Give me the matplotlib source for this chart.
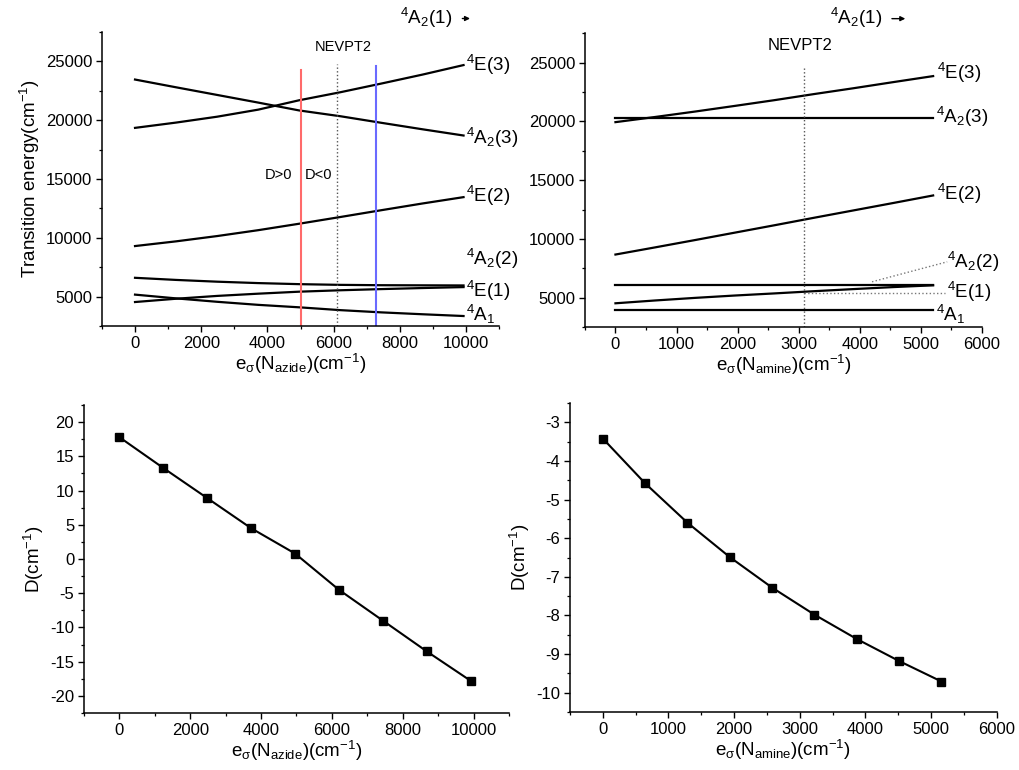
import matplotlib
matplotlib.use("Agg")
import matplotlib.pyplot as plt
from matplotlib.ticker import MultipleLocator

plt.rcParams['font.family'] = ['Liberation Sans', 'DejaVu Sans']
plt.rcParams['mathtext.fontset'] = 'custom'
plt.rcParams['mathtext.rm'] = 'Liberation Sans'
plt.rcParams['mathtext.it'] = 'Liberation Sans:italic'
plt.rcParams['mathtext.sf'] = 'Liberation Sans'
plt.rcParams['axes.unicode_minus'] = False

# ---- data: azide (top-left) ----
x_azide = [0, 1240, 2480, 3720, 4960, 6200, 7440, 8680, 9920]
azide_E3 = [19350, 19800, 20300, 20900, 21700, 22380, 23120, 23880, 24690]
azide_A2_3 = [23460, 22800, 22150, 21500, 20830, 20340, 19780, 19230, 18700]
azide_E2 = [9300, 9700, 10150, 10650, 11200, 11770, 12350, 12920, 13460]
azide_A2_2 = [6600, 6420, 6270, 6150, 6060, 6000, 5970, 5960, 5950]
azide_E1 = [4540, 4820, 5060, 5250, 5420, 5540, 5640, 5730, 5810]
azide_A1 = [5170, 4850, 4560, 4300, 4090, 3850, 3660, 3500, 3350]

# ---- data: amine (top-right) ----
x_amine = [0, 650, 1300, 1950, 2600, 3250, 3900, 4550, 5200]
amine_E3 = [19940, 20380, 20840, 21320, 21810, 22330, 22830, 23350, 23860]
amine_A2_3 = [20300] * 9
amine_E2 = [8670, 9280, 9900, 10530, 11160, 11800, 12430, 13060, 13700]
amine_A2_2 = [6050] * 9
amine_E1 = [4520, 4760, 4980, 5180, 5360, 5550, 5730, 5900, 6050]
amine_A1 = [3950] * 9

# ---- D values ----
D_x_azide = [0, 1240, 2480, 3720, 4960, 6200, 7440, 8680, 9920]
D_azide = [17.8, 13.3, 8.9, 4.5, 0.8, -4.5, -9.0, -13.5, -17.8]
D_x_amine = [0, 645, 1290, 1935, 2580, 3225, 3870, 4515, 5160]
D_amine = [-3.42, -4.58, -5.60, -6.49, -7.28, -7.98, -8.61, -9.18, -9.71]

nevpt2_azide = 6110
nevpt2_amine = 3080
red_x = 5015
blue_x = 7280

lab_E3 = r'$^{4}$E(3)'
lab_A23 = r'$^{4}$A$_{2}$(3)'
lab_E2 = r'$^{4}$E(2)'
lab_A22 = r'$^{4}$A$_{2}$(2)'
lab_E1 = r'$^{4}$E(1)'
lab_A1 = r'$^{4}$A$_{1}$'
lab_A21 = r'$^{4}$A$_{2}$(1)'

xlab_azide = r'e$_{\mathrm{σ}}$(N$_{\mathrm{azide}}$)(cm$^{-1}$)'
xlab_amine = r'e$_{\mathrm{σ}}$(N$_{\mathrm{amine}}$)(cm$^{-1}$)'

fig = plt.figure(figsize=(10.19, 7.70), dpi=100)
ax1 = fig.add_axes([0.100, 0.5766, 0.390, 0.3818])
ax2 = fig.add_axes([0.574, 0.5753, 0.3897, 0.3814])
ax3 = fig.add_axes([0.0824, 0.074, 0.4171, 0.400])
ax4 = fig.add_axes([0.5594, 0.0753, 0.4186, 0.4013])


def style(ax):
    for s in ['top', 'right']:
        ax.spines[s].set_visible(False)
    for s in ['left', 'bottom']:
        ax.spines[s].set_linewidth(1.1)
    ax.tick_params(which='major', direction='out', length=4, width=1.0, labelsize=12, pad=3)
    ax.tick_params(which='minor', direction='out', length=2.5, width=0.9)


lw = 1.6
fs_ax = 13.5
fs_lab = 13.5
arrow = dict(arrowstyle='-|>', color='black', lw=1.0, mutation_scale=7)

# top-left
for y in [azide_E3, azide_A2_3, azide_E2, azide_A2_2, azide_E1, azide_A1]:
    ax1.plot(x_azide, y, color='black', lw=lw)
ax1.plot([red_x, red_x], [2500, 24260], color='#ff6a6a', lw=1.5)
ax1.plot([blue_x, blue_x], [2500, 24600], color='#6a6aff', lw=1.5)
ax1.plot([nevpt2_azide, nevpt2_azide], [2500, 24740], color='#555555', lw=1.0, ls=':')
ax1.text(6280, 26200, 'NEVPT2', ha='center', va='center', fontsize=10.5)
ax1.text(4320, 15350, 'D>0', ha='center', va='center', fontsize=10.5)
ax1.text(5530, 15350, 'D<0', ha='center', va='center', fontsize=10.5)
ax1.set_xlim(-1000, 11000)
ax1.set_ylim(2500, 27500)
ax1.xaxis.set_major_locator(MultipleLocator(2000))
ax1.xaxis.set_minor_locator(MultipleLocator(1000))
ax1.yaxis.set_major_locator(MultipleLocator(5000))
ax1.yaxis.set_minor_locator(MultipleLocator(2500))
ax1.set_xlabel(xlab_azide, fontsize=fs_ax, labelpad=1)
ax1.set_ylabel(r'Transition energy(cm$^{-1}$)', fontsize=fs_ax, labelpad=3)
for txt, yy in [(lab_E3, 24700), (lab_A23, 18500), (lab_E2, 13600), (lab_A22, 8200),
                (lab_E1, 5450), (lab_A1, 3500)]:
    ax1.text(10000, yy, txt, ha='left', va='center', fontsize=fs_lab, clip_on=False)
ax1.text(8000, 28700, lab_A21, ha='left', va='center', fontsize=fs_lab, clip_on=False)
ax1.annotate('', xy=(10200, 28650), xytext=(9800, 28650), arrowprops=arrow,
             annotation_clip=False)
style(ax1)

# top-right
for y in [amine_E3, amine_A2_3, amine_E2, amine_A2_2, amine_E1, amine_A1]:
    ax2.plot(x_amine, y, color='black', lw=lw)
ax2.plot([nevpt2_amine, nevpt2_amine], [2500, 24570], color='#555555', lw=1.0, ls=':')
ax2.plot([4200, 5430], [6350, 8050], color='#777777', lw=1.0, ls=':')
ax2.plot([3080, 5400], [5380, 5380], color='#777777', lw=1.0, ls=':')
ax2.text(3020, 26500, 'NEVPT2', ha='center', va='center', fontsize=12)
ax2.set_xlim(-500, 6000)
ax2.set_ylim(2500, 27500)
ax2.xaxis.set_major_locator(MultipleLocator(1000))
ax2.xaxis.set_minor_locator(MultipleLocator(500))
ax2.yaxis.set_major_locator(MultipleLocator(5000))
ax2.yaxis.set_minor_locator(MultipleLocator(2500))
ax2.set_xlabel(xlab_amine, fontsize=fs_ax, labelpad=1)
for txt, xx, yy in [(lab_E3, 5270, 24100), (lab_A23, 5250, 20400), (lab_E2, 5270, 13800),
                    (lab_A22, 5420, 8050), (lab_E1, 5420, 5450), (lab_A1, 5250, 3550)]:
    ax2.text(xx, yy, txt, ha='left', va='center', fontsize=fs_lab, clip_on=False)
ax2.text(3520, 28800, lab_A21, ha='left', va='center', fontsize=fs_lab, clip_on=False)
ax2.annotate('', xy=(4790, 28750), xytext=(4480, 28750), arrowprops=arrow,
             annotation_clip=False)
style(ax2)

# bottom-left
ax3.plot(D_x_azide, D_azide, color='black', lw=1.5, marker='s', markersize=6)
ax3.set_xlim(-1000, 11000)
ax3.set_ylim(-22.5, 22.5)
ax3.xaxis.set_major_locator(MultipleLocator(2000))
ax3.xaxis.set_minor_locator(MultipleLocator(1000))
ax3.yaxis.set_major_locator(MultipleLocator(5))
ax3.yaxis.set_minor_locator(MultipleLocator(2.5))
ax3.set_xlabel(xlab_azide, fontsize=fs_ax, labelpad=1)
ax3.set_ylabel(r'D(cm$^{-1}$)', fontsize=fs_ax, labelpad=3)
style(ax3)

# bottom-right
ax4.plot(D_x_amine, D_amine, color='black', lw=1.5, marker='s', markersize=6)
ax4.set_xlim(-500, 6000)
ax4.set_ylim(-10.5, -2.5)
ax4.xaxis.set_major_locator(MultipleLocator(1000))
ax4.xaxis.set_minor_locator(MultipleLocator(500))
ax4.yaxis.set_major_locator(MultipleLocator(1))
ax4.yaxis.set_minor_locator(MultipleLocator(0.5))
ax4.set_xlabel(xlab_amine, fontsize=fs_ax, labelpad=1)
ax4.set_ylabel(r'D(cm$^{-1}$)', fontsize=fs_ax, labelpad=3)
style(ax4)

fig.savefig('out.png', dpi=100)
